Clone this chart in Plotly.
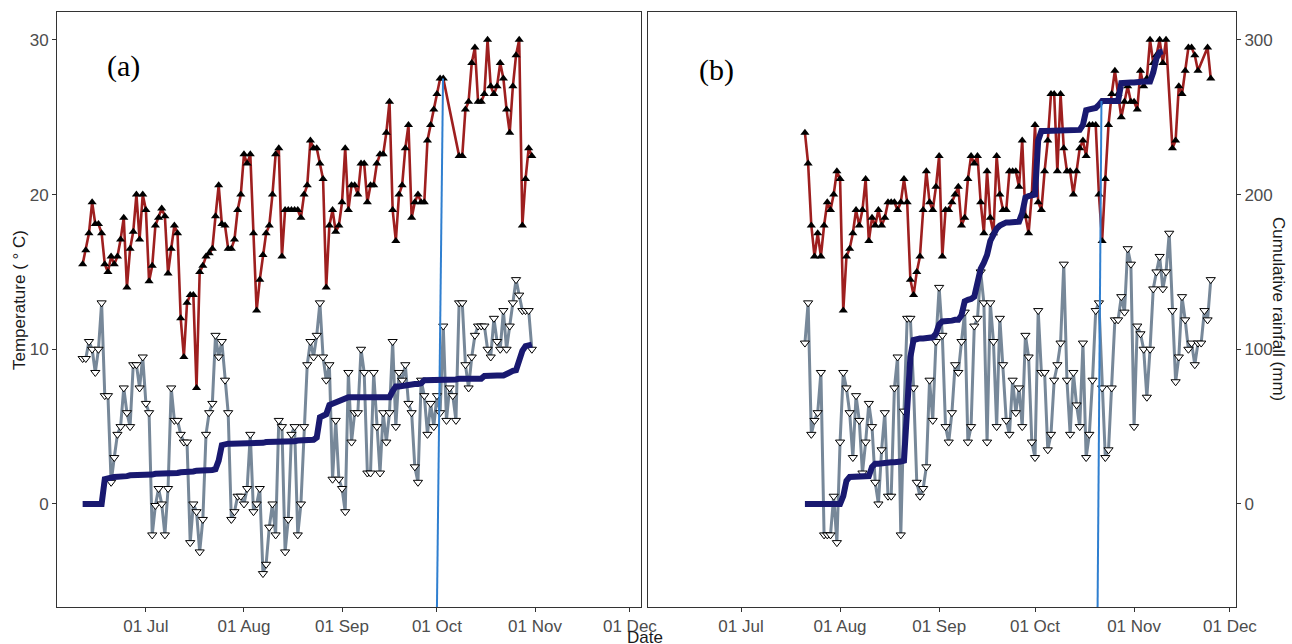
import pandas as pd
import plotly.graph_objects as go

# ---------------- data ----------------
START_A = "2019-06-11"
TMAX_A = [15.5, 16.4, 17.5, 19.5, 18.1, 18.1, 17.5, 15.5, 15.0, 16.0,
          15.5, 16.0, 17.1, 18.5, 14.0, 16.5, 17.6, 20.0, 17.1, 20.0,
          19.0, 14.4, 15.4, 18.0, 18.5, 19.1, 18.6, 14.9, 16.5, 18.0,
          17.5, 12.0, 9.5, 13.0, 13.5, 13.5, 7.5, 15.0, 15.4, 16.0,
          16.2, 16.5, 18.6, 20.6, 18.1, 18.0, 16.5, 16.5, 17.1, 19.0,
          20.0, 22.6, 22.0, 22.6, 17.5, 12.5, 14.5, 16.1, 17.5, 18.0,
          20.0, 22.6, 23.0, 16.0, 19.0, 19.0, 19.0, 19.0, 19.0, 18.5,
          20.0, 20.6, 23.5, 23.0, 23.0, 22.0, 21.0, 14.0, 18.0, 19.0,
          17.6, 18.0, 19.5, 23.0, 19.0, 20.6, 20.6, 20.0, 22.0, 22.0,
          19.5, 20.6, 20.6, 22.0, 22.6, 22.6, 24.0, 26.0, 19.0, 17.0,
          20.0, 20.6, 23.0, 24.5, 18.5, 19.5, 20.0, 19.5, 19.5, 23.5,
          24.5, 25.5, 26.5, 27.5, 27.5, None, None, None, None, 22.5,
          22.5, 25.5, 26.0, 28.5, 29.5, 26.0, 26.0, 26.5, 30.0, 27.0,
          26.5, 27.0, 28.5, 27.5, 25.5, 24.0, 27.0, 29.0, 30.0, 18.0,
          21.0, 23.0, 22.5]
TMIN_A = [9.4, 9.4, 10.5, 10.0, 8.5, 10.0, 13.0, 7.0, 7.0, 1.4,
          3.0, 4.5, 5.0, 7.5, 5.9, 5.0, 9.0, 9.0, 7.5, 9.5,
          6.5, 5.9, -2.0, -0.1, 1.0, 0.0, -2.0, 1.0, 7.5, 5.4,
          5.4, 4.5, 4.0, 4.0, -2.5, 0.0, -0.5, -3.1, -1.0, 4.5,
          5.9, 6.5, 10.9, 9.5, 10.5, 8.0, 5.9, -1.0, -0.5, 0.5,
          0.5, 0.0, 1.0, 4.5, -0.5, 0.0, 1.0, -4.5, -3.9, -1.5,
          0.0, -2.0, 5.4, 5.0, -3.1, -1.0, 4.5, 5.0, -2.0, 0.0,
          5.0, 9.0, 10.5, 9.5, 10.9, 13.0, 9.5, 8.0, 9.0, 1.6,
          5.4, 1.6, 1.0, -0.5, 8.5, 4.0, 5.9, 5.9, 10.0, 8.5,
          2.0, 2.0, 8.5, 5.0, 2.0, 5.9, 4.0, 5.9, 10.5, 5.0,
          8.5, 8.0, 9.0, 6.5, 5.9, 2.4, 1.4, 8.0, 7.0, 4.5,
          6.5, 5.0, 7.0, 5.9, 11.5, 5.4, 7.5, 7.0, 5.4, 13.0,
          13.0, 9.0, 7.5, 9.5, 10.9, 11.5, 11.5, 11.5, 10.0, 9.5,
          12.0, 10.5, 10.0, 12.5, 10.0, 11.5, 13.0, 14.5, 13.5, 12.5,
          12.5, 12.5, 10.0]
RAIN_A = [0, 0, 0, 0, 0, 0, 0,
          16, 17, 17, 17.5, 17.5, 18, 18, 18, 18.5, 18.5, 18.5, 19, 19, 19, 19, 19,
          19.5, 19.5, 19.5, 19.5, 19.5, 20, 20, 20, 20.5, 20.5, 21, 21, 21,
          21.5, 21.5, 21.5, 22, 22, 22, 22.5, 28, 38,
          39, 39, 39, 39, 39, 39, 39.5, 39.5, 39.5, 39.5, 39.5, 39.5, 39.5,
          40, 40, 40, 40, 40, 40, 40, 40, 40,
          40.5, 41, 41, 41, 41, 41, 41.5,
          43, 56, 57, 58, 64, 65, 66, 66.5, 67, 69,
          69, 69, 69, 69, 69, 69, 69, 69, 69, 69, 69, 69, 69, 69,
          73, 76,
          76, 76.5, 76.5, 77, 77, 77.5, 77.5,
          78, 80,
          80, 80, 80, 80, 80.5, 80.5, 80.5, 80.5, 80.5, 80.5, 81, 81, 81, 81, 81, 81, 81, 81,
          82.7,
          83, 83, 83, 83, 83, 83,
          84, 85.5, 86, 86.5, 93, 99, 102, 103, 103]

START_B = "2019-07-21"
TMAX_B = [24.0, 22.0, 18.0, 16.0, 17.5, 16.0, 18.0, 19.5, 19.0, 20.0,
          21.5, 21.0, 12.5, 16.0, 16.5, 17.5, 19.0, 18.0, 19.0, 21.0,
          17.0, 18.5, 18.0, 19.0, 18.0, 18.5, 19.5, 19.5, 19.5, 19.0,
          19.5, 21.0, 19.5, 14.5, 13.5, 15.0, 16.0, 19.0, 21.5, 19.5,
          19.0, 20.5, 22.5, 16.0, 19.0, 19.0, 19.5, 20.0, 20.5, 18.0,
          18.5, 21.0, 22.5, 22.0, 22.5, 19.5, 17.5, 21.5, 18.5, 17.5,
          22.5, 20.0, 19.0, 19.0, 21.5, 21.5, 21.5, 20.5, 23.5, 18.6,
          17.5, 20.0, 24.5, 19.5, 19.0, 21.5, 23.5, 26.5, 26.5, 21.5,
          26.5, 23.0, 21.5, 21.5, 20.0, 21.5, 23.0, 23.5, 22.5, 24.5,
          24.5, 24.5, 20.0, 17.0, 21.0, 24.5, 26.5, 28.0, 26.5, 25.0,
          26.0, 27.0, 26.0, 26.0, 25.5, 28.0, 27.0, 27.5, 30.0, 28.5,
          29.0, 30.0, 28.5, 30.0, None, 23.0, 23.5, 27.0, 26.5, 28.0,
          29.5, 29.5, 29.0, 28.0, None, None, 29.5, 27.5]
TMIN_B = [10.4, 13.0, 4.5, 5.4, 5.9, 8.5, -2.0, -2.0, -2.0, 0.5,
          -2.5, 4.0, 8.5, 7.5, 5.9, 3.0, 7.0, 5.4, 2.0, 4.0,
          6.5, 5.0, 1.4, 0.0, 3.5, 5.9, 0.5, 0.5, 7.5, 9.5,
          -2.0, 6.0, 12.0, 12.0, 7.5, 1.4, 0.5, 1.0, 2.4, 8.0,
          5.4, 10.5, 14.0, 10.9, 5.0, 4.0, 5.9, 9.0, 8.5, 10.5,
          12.4, 4.0, 5.0, 11.5, 12.0, 15.0, 13.0, 4.0, 13.0, 10.5,
          5.0, 12.0, 9.0, 5.4, 4.5, 8.0, 5.9, 7.5, 5.0, 10.9,
          9.5, 4.0, 3.0, 12.5, 8.5, 8.5, 3.5, 4.5, 8.0, 9.0,
          10.4, 15.5, 8.0, 4.5, 8.5, 6.4, 5.0, 10.4, 3.0, 4.5,
          8.0, 12.5, 13.0, 7.5, 3.0, 3.5, 7.5, 11.9, 11.9, 13.4,
          12.4, 16.5, 15.5, 5.0, 11.5, 11.0, 10.0, 6.9, 10.0, 13.9,
          15.0, 16.0, 13.9, 15.0, 17.5, 12.5, 7.9, 9.5, 13.4, 11.9,
          10.0, 10.4, 9.0, 10.4, 10.4, 12.5, 11.9, 14.5]
RAIN_B = [0, 0, 0, 0, 0, 0, 0, 0, 0, 0, 0, 0,
          5, 15, 17.5, 17.5, 17.5, 17.5, 17.5, 17.5, 18, 24, 26, 26, 26.5, 26.5, 26.5,
          27, 27, 27, 27.4, 28, 65, 95, 106, 107, 107, 107, 107.5, 107.5, 107.7,
          110, 116, 118, 118, 118.5, 118.5, 119, 119, 122, 131, 132, 132.5, 134,
          142, 152, 156, 161, 170, 175, 178, 180, 181.5, 182, 182, 182.5, 182.5, 182.5,
          188, 198, 199, 199.5, 200, 235, 241,
          241, 241, 241, 241, 241.5, 241.5, 241.5, 241.5, 241.5, 241.8, 241.8, 241.8,
          245, 254.5, 255, 255.5, 256, 258, 260.5,
          260.5, 260.5, 260.5, 260.5, 260.5,
          272,
          272.5, 272.5, 272.5, 272.5, 273, 273, 273, 273, 273,
          279, 288, 292, 292.5]

# marker lines (date at bottom, date at top, top value)
MARK_A_DATES = ["2019-10-01 00:00", "2019-10-02 22:00"]
MARK_A_TOP_TEMP = 27.5
MARK_B_DATES = ["2019-10-20 14:00", "2019-10-21 19:00"]
MARK_B_TOP_RAIN = 260.5

TICK_DATES = ["2019-07-01", "2019-08-01", "2019-09-01", "2019-10-01", "2019-11-01", "2019-12-01"]
TEMP_TICKS = [0, 10, 20, 30]
RAIN_TICKS = [0, 100, 200, 300]

# ---------------- layout constants ----------------
Y_MIN, Y_MAX = -6.66, 31.8
RAIN_SCALE = 10.0
XR_A = ["2019-06-02 21:30", "2019-12-04 12:00"]
XR_B = ["2019-06-01 21:30", "2019-12-02 21:30"]

RED = "#9E1F1F"
GREY = "#778899"
NAVY = "#191970"
VLINE = "#2F7FD0"
AXC = "#333333"
TICKC = "#4D4D4D"
FONT = "Liberation Sans, Arial, sans-serif"
TICK_SIZE = 17
TITLE_SIZE = 17

dates_a = pd.date_range(START_A, periods=len(TMAX_A), freq="D")
rain_dates_a = pd.date_range(START_A, periods=len(RAIN_A), freq="D")
dates_b = pd.date_range(START_B, periods=len(TMAX_B), freq="D")
rain_dates_b = pd.date_range(START_B, periods=len(RAIN_B), freq="D")

fig = go.Figure()


def add_panel(dates, tmax, tmin, rain_dates, rain, xa, ya, ya_rain):
    fig.add_trace(go.Scatter(
        x=dates, y=tmax, mode="lines+markers", connectgaps=True,
        line=dict(color=RED, width=2.6),
        marker=dict(symbol="triangle-up", size=8, color="black"),
        xaxis=xa, yaxis=ya, showlegend=False))
    fig.add_trace(go.Scatter(
        x=dates, y=tmin, mode="lines+markers", connectgaps=True,
        line=dict(color=GREY, width=3),
        marker=dict(symbol="triangle-down", size=8, color="white",
                    line=dict(color="black", width=1)),
        xaxis=xa, yaxis=ya, showlegend=False))
    fig.add_trace(go.Scatter(
        x=rain_dates, y=rain, mode="lines",
        line=dict(color=NAVY, width=6),
        xaxis=xa, yaxis=ya_rain, showlegend=False))


add_panel(dates_a, TMAX_A, TMIN_A, rain_dates_a, RAIN_A, "x", "y", "y4")
add_panel(dates_b, TMAX_B, TMIN_B, rain_dates_b, RAIN_B, "x2", "y2", "y3")

fig.add_trace(go.Scatter(
    x=MARK_A_DATES, y=[Y_MIN, MARK_A_TOP_TEMP], mode="lines",
    line=dict(color=VLINE, width=2), xaxis="x", yaxis="y", showlegend=False))
fig.add_trace(go.Scatter(
    x=MARK_B_DATES, y=[Y_MIN * RAIN_SCALE, MARK_B_TOP_RAIN], mode="lines",
    line=dict(color=VLINE, width=2), xaxis="x2", yaxis="y3", showlegend=False))

L, R, T, B = 57, 56, 12, 37
W, H = 1292, 644
pw = W - L - R
ph = H - T - B
dom_a = [0, (641 - L) / pw]
dom_b = [(648 - L) / pw, 1]

xcommon = dict(
    tickvals=TICK_DATES, tickformat="%d %b", ticks="outside", ticklen=4,
    tickcolor=AXC, showline=True, mirror=True, linecolor=AXC, linewidth=1,
    showgrid=False, zeroline=False, automargin=False,
    tickfont=dict(family=FONT, size=TICK_SIZE, color=TICKC))
ycommon = dict(
    range=[Y_MIN, Y_MAX], showline=True, mirror=True, linecolor=AXC, linewidth=1,
    showgrid=False, zeroline=False, automargin=False)

fig.update_layout(
    width=W, height=H,
    margin=dict(l=L, r=R, t=T, b=B, autoexpand=False),
    paper_bgcolor="white", plot_bgcolor="white",
    xaxis=dict(domain=dom_a, range=XR_A, anchor="y", **xcommon),
    xaxis2=dict(domain=dom_b, range=XR_B, anchor="y2", **xcommon),
    yaxis=dict(anchor="x", tickvals=TEMP_TICKS, ticks="outside", ticklen=4,
               tickcolor=AXC, tickfont=dict(family=FONT, size=TICK_SIZE, color=TICKC),
               **ycommon),
    yaxis4=dict(anchor="x", overlaying="y", visible=False,
                range=[Y_MIN * RAIN_SCALE, Y_MAX * RAIN_SCALE]),
    yaxis2=dict(anchor="x2", showticklabels=False, ticks="", **ycommon),
    yaxis3=dict(anchor="x2", overlaying="y2", side="right",
                range=[Y_MIN * RAIN_SCALE, Y_MAX * RAIN_SCALE],
                tickvals=RAIN_TICKS, ticks="outside", ticklen=4, tickcolor=AXC,
                tickfont=dict(family=FONT, size=TICK_SIZE, color=TICKC),
                showline=False, showgrid=False, zeroline=False, automargin=False),
    font=dict(family=FONT),
)


def px_to_paper(xp, yp):
    return (xp - L) / pw, (H - B - yp) / ph


annots = [
    ("(a)", 123, 66, 0, dict(family="Liberation Serif, Times New Roman, serif", size=30, color="black")),
    ("(b)", 716, 70, 0, dict(family="Liberation Serif, Times New Roman, serif", size=30, color="black")),
    ("Temperature ( ° C)", 20, 300, -90, dict(family=FONT, size=TITLE_SIZE, color="#1a1a1a")),
    ("Cumulative rainfall (mm)", 1279, 309, 90, dict(family=FONT, size=TITLE_SIZE, color="#1a1a1a")),
    ("Date", 645, 637, 0, dict(family=FONT, size=TITLE_SIZE, color="#1a1a1a")),
]
for text, xp, yp, ang, f in annots:
    xx, yy = px_to_paper(xp, yp)
    fig.add_annotation(text=text, x=xx, y=yy, xref="paper", yref="paper",
                       xanchor="center", yanchor="middle", showarrow=False,
                       textangle=ang, font=f)

fig.write_html("out.html",
               config={"displayModeBar": False},
               post_script="document.body.style.margin='0';document.body.style.overflow='hidden';")
